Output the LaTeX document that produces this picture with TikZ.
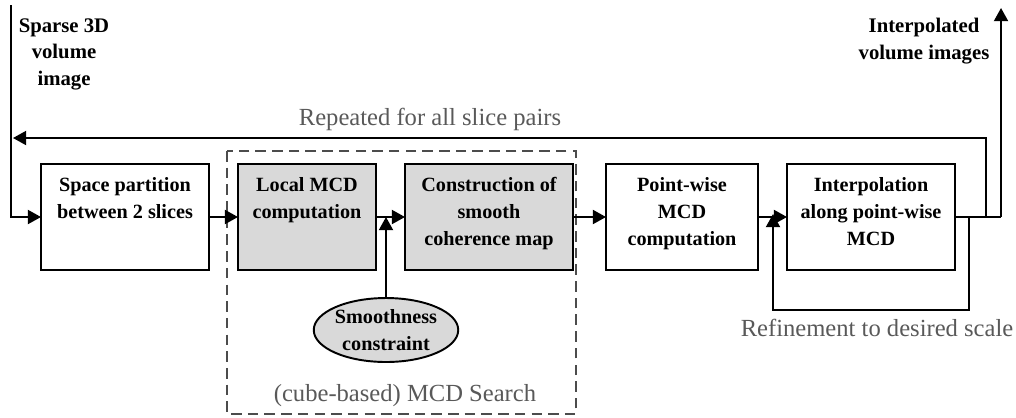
\documentclass[tikz,border=0pt]{standalone}
\usepackage{fontspec}
\setmainfont{Liberation Serif}
\usetikzlibrary{arrows.meta,shapes.geometric}
\newcommand{\btext}[2]{\parbox[c][2.12cm][t]{#1}{\centering\rule{0pt}{15.9pt}#2}}
\tikzset{
  box/.style={draw, line width=1.1pt, inner sep=0pt, outer sep=0pt, fill=white,
              font=\fontsize{11.5}{15.1}\selectfont\bfseries},
  graybox/.style={box, fill=black!15},
  conn/.style={line width=1.1pt, -{Triangle[length=7.5pt,width=8pt]}},
  plain/.style={line width=1.1pt},
  note/.style={text=black!65, font=\fontsize{14}{16}\selectfont, inner sep=0pt},
  title/.style={align=center, inner sep=0pt, font=\fontsize{11.8}{15.1}\selectfont\bfseries},
  searchframe/.style={draw=black!70, line width=1.6pt, dash pattern=on 6pt off 3.5pt}
}
\begin{document}
\begin{tikzpicture}[x=0.02cm,y=-0.02cm]
\useasboundingbox (0,0) rectangle (1016,417);
% dashed frame
\draw[searchframe] (227,151) rectangle (576,414);
\node[note] (search) at (405,396) {(cube-based) MCD Search};
% boxes
\node[box] (b1) at (125,217) {\btext{3.36cm}{Space partition\\between 2 slices}};
\node[graybox] (b2) at (307,217) {\btext{2.76cm}{Local MCD\\computation}};
\node[graybox] (b3) at (489,217) {\btext{3.36cm}{Construction of\\smooth\\coherence map}};
\node[box] (b4) at (682,217) {\btext{3.04cm}{Point-wise\\MCD\\computation}};
\node[box] (b5) at (871,217) {\btext{3.36cm}{Interpolation\\along point-wise\\MCD}};
\node[draw, ellipse, line width=1.1pt, fill=black!15, minimum width=2.72cm, minimum height=1.28cm,
      inner sep=0pt, align=center, font=\fontsize{11.5}{15.1}\selectfont\bfseries] (sm) at (386,330)
      {Smoothness\\constraint};
% labels
\node[title] (in) at (64,54) {Sparse 3D\\volume\\image};
\node[title] (out) at (924,41) {Interpolated\\volume images};
\node[note] (rep) at (430,119) {Repeated for all slice pairs};
\node[note] (ref) at (877,328) {Refinement to desired scale};
% coordinates
\coordinate (intop) at (11,5);
\coordinate (inbend) at (11,217);
\coordinate (j23) at (386,217);
\coordinate (fb1) at (969,217);
\coordinate (fb2) at (969,310);
\coordinate (fb3) at (773,310);
\coordinate (fb4) at (773,217);
\coordinate (rp1) at (986,217);
\coordinate (rp2) at (986,138);
\coordinate (rp3) at (13,138);
\coordinate (o1) at (1001,217);
\coordinate (o2) at (1001,8);
% connectors
\draw[conn] (intop) -- (inbend) -- (b1.west);
\draw[conn] (b1.east) -- (b2.west);
\draw[conn] (b2.east) -- (b3.west);
\draw[conn] (sm.north) -- (j23);
\draw[conn] (b3.east) -- (b4.west);
\draw[conn] (b4.east) -- (b5.west);
\draw[plain] (b5.east) -- (o1);
\draw[conn] (o1) -- (o2);
\draw[conn] (rp1) -- (rp2) -- (rp3);
\draw[conn] (fb1) -- (fb2) -- (fb3) -- ([yshift=0.06cm]fb4);
\end{tikzpicture}
\end{document}
